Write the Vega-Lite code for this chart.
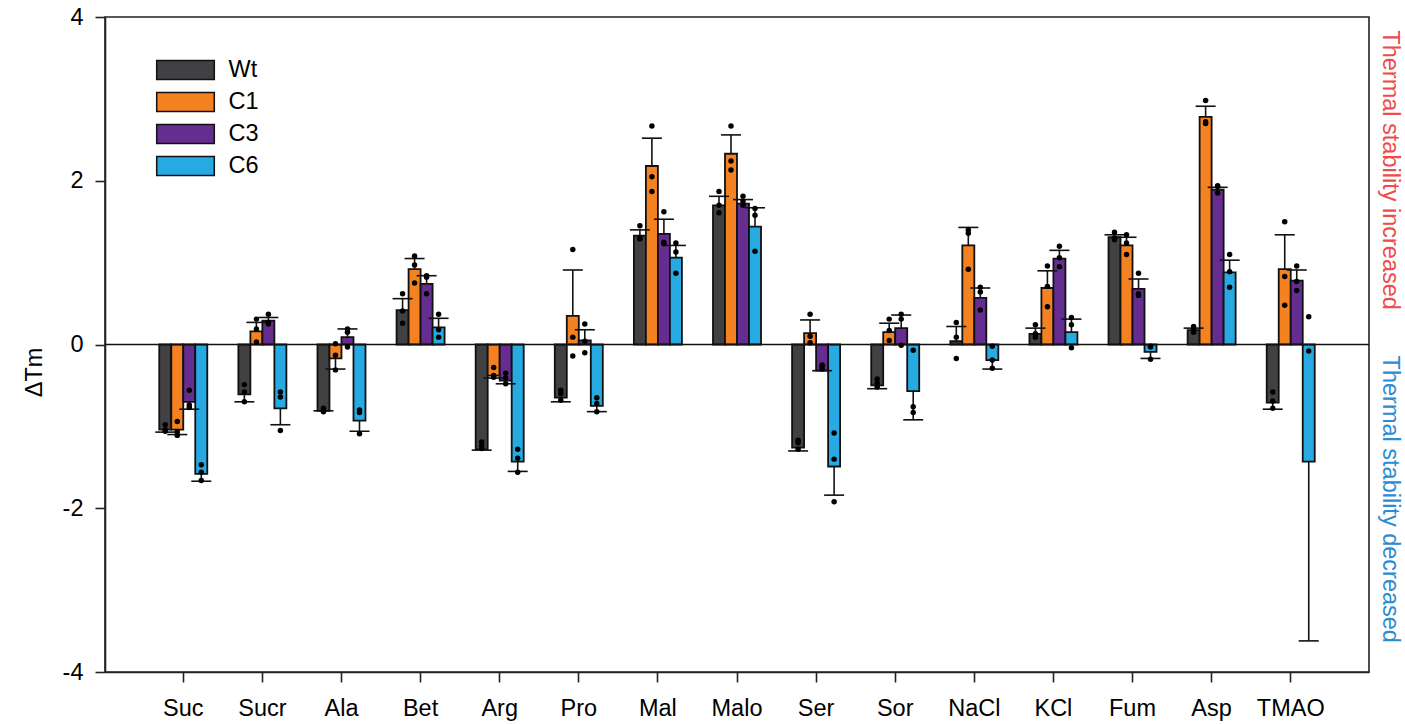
{
  "$schema": "https://vega.github.io/schema/vega-lite/v6.json",
  "width": 1264,
  "height": 655,
  "autosize": {"type": "none"},
  "padding": {"left": 105, "top": 17, "right": 36, "bottom": 52},
  "background": "white",
  "config": {
    "font": "Liberation Sans",
    "view": {"stroke": "#222222", "strokeWidth": 1.6},
    "axis": {"domainColor": "#222222", "domainWidth": 1.6, "tickColor": "#222222", "tickWidth": 1.6, "labelColor": "black", "titleColor": "black", "grid": false}
  },
  "datasets": {
    "bars": [
      {"cat": "Suc", "grp": "Wt", "mean": -1.04, "cap": -1.07, "d1": -0.98, "d2": -1.04, "d3": -1.06},
      {"cat": "Suc", "grp": "C1", "mean": -1.04, "cap": -1.10, "d1": -0.94, "d2": -1.07, "d3": -1.11},
      {"cat": "Suc", "grp": "C3", "mean": -0.70, "cap": -0.79, "d1": -0.56, "d2": -0.74, "d3": -0.77},
      {"cat": "Suc", "grp": "C6", "mean": -1.58, "cap": -1.67, "d1": -1.47, "d2": -1.56, "d3": -1.66},
      {"cat": "Sucr", "grp": "Wt", "mean": -0.61, "cap": -0.70, "d1": -0.49, "d2": -0.58, "d3": -0.70},
      {"cat": "Sucr", "grp": "C1", "mean": 0.16, "cap": 0.27, "d1": 0.31, "d2": 0.19, "d3": 0.03},
      {"cat": "Sucr", "grp": "C3", "mean": 0.29, "cap": 0.33, "d1": 0.37, "d2": 0.27, "d3": 0.25},
      {"cat": "Sucr", "grp": "C6", "mean": -0.78, "cap": -0.98, "d1": -0.58, "d2": -0.64, "d3": -1.05},
      {"cat": "Ala", "grp": "Wt", "mean": -0.81, "cap": -0.81, "d1": -0.78, "d2": -0.80, "d3": -0.82},
      {"cat": "Ala", "grp": "C1", "mean": -0.17, "cap": -0.30, "d1": 0.01, "d2": -0.13, "d3": -0.31},
      {"cat": "Ala", "grp": "C3", "mean": 0.09, "cap": 0.19, "d1": 0.19, "d2": 0.15, "d3": -0.03},
      {"cat": "Ala", "grp": "C6", "mean": -0.93, "cap": -1.06, "d1": -0.80, "d2": -0.83, "d3": -1.09},
      {"cat": "Bet", "grp": "Wt", "mean": 0.42, "cap": 0.56, "d1": 0.62, "d2": 0.41, "d3": 0.26},
      {"cat": "Bet", "grp": "C1", "mean": 0.92, "cap": 1.05, "d1": 1.08, "d2": 0.97, "d3": 0.75},
      {"cat": "Bet", "grp": "C3", "mean": 0.74, "cap": 0.84, "d1": 0.84, "d2": 0.82, "d3": 0.62},
      {"cat": "Bet", "grp": "C6", "mean": 0.21, "cap": 0.32, "d1": 0.37, "d2": 0.18, "d3": 0.09},
      {"cat": "Arg", "grp": "Wt", "mean": -1.28, "cap": -1.29, "d1": -1.19, "d2": -1.24, "d3": -1.27},
      {"cat": "Arg", "grp": "C1", "mean": -0.38, "cap": -0.41, "d1": -0.28, "d2": -0.38, "d3": -0.40},
      {"cat": "Arg", "grp": "C3", "mean": -0.44, "cap": -0.48, "d1": -0.35, "d2": -0.41, "d3": -0.48},
      {"cat": "Arg", "grp": "C6", "mean": -1.43, "cap": -1.55, "d1": -1.28, "d2": -1.39, "d3": -1.56},
      {"cat": "Pro", "grp": "Wt", "mean": -0.65, "cap": -0.70, "d1": -0.56, "d2": -0.60, "d3": -0.68},
      {"cat": "Pro", "grp": "C1", "mean": 0.35, "cap": 0.91, "d1": 1.16, "d2": 0.09, "d3": -0.14},
      {"cat": "Pro", "grp": "C3", "mean": 0.05, "cap": 0.18, "d1": 0.25, "d2": 0.04, "d3": -0.10},
      {"cat": "Pro", "grp": "C6", "mean": -0.75, "cap": -0.82, "d1": -0.65, "d2": -0.72, "d3": -0.82},
      {"cat": "Mal", "grp": "Wt", "mean": 1.33, "cap": 1.40, "d1": 1.45, "d2": 1.30, "d3": 1.29},
      {"cat": "Mal", "grp": "C1", "mean": 2.18, "cap": 2.52, "d1": 2.67, "d2": 2.05, "d3": 1.87},
      {"cat": "Mal", "grp": "C3", "mean": 1.35, "cap": 1.53, "d1": 1.62, "d2": 1.25, "d3": 1.23},
      {"cat": "Mal", "grp": "C6", "mean": 1.06, "cap": 1.21, "d1": 1.24, "d2": 1.13, "d3": 0.87},
      {"cat": "Malo", "grp": "Wt", "mean": 1.70, "cap": 1.81, "d1": 1.87, "d2": 1.70, "d3": 1.61},
      {"cat": "Malo", "grp": "C1", "mean": 2.33, "cap": 2.56, "d1": 2.67, "d2": 2.24, "d3": 2.13},
      {"cat": "Malo", "grp": "C3", "mean": 1.72, "cap": 1.77, "d1": 1.81, "d2": 1.75, "d3": 1.70},
      {"cat": "Malo", "grp": "C6", "mean": 1.44, "cap": 1.67, "d1": 1.66, "d2": 1.58, "d3": 1.14},
      {"cat": "Ser", "grp": "Wt", "mean": -1.26, "cap": -1.30, "d1": -1.17, "d2": -1.20, "d3": -1.28},
      {"cat": "Ser", "grp": "C1", "mean": 0.14, "cap": 0.30, "d1": 0.37, "d2": 0.10, "d3": 0.02},
      {"cat": "Ser", "grp": "C3", "mean": -0.32, "cap": -0.32, "d1": -0.25, "d2": -0.27, "d3": -0.30},
      {"cat": "Ser", "grp": "C6", "mean": -1.49, "cap": -1.84, "d1": -1.08, "d2": -1.40, "d3": -1.92},
      {"cat": "Sor", "grp": "Wt", "mean": -0.50, "cap": -0.54, "d1": -0.42, "d2": -0.47, "d3": -0.52},
      {"cat": "Sor", "grp": "C1", "mean": 0.15, "cap": 0.26, "d1": 0.31, "d2": 0.17, "d3": 0.05},
      {"cat": "Sor", "grp": "C3", "mean": 0.20, "cap": 0.36, "d1": 0.37, "d2": 0.31, "d3": -0.01},
      {"cat": "Sor", "grp": "C6", "mean": -0.57, "cap": -0.92, "d1": -0.07, "d2": -0.76, "d3": -0.83},
      {"cat": "NaCl", "grp": "Wt", "mean": 0.04, "cap": 0.22, "d1": 0.27, "d2": 0.09, "d3": -0.17},
      {"cat": "NaCl", "grp": "C1", "mean": 1.21, "cap": 1.43, "d1": 1.40, "d2": 1.36, "d3": 0.92},
      {"cat": "NaCl", "grp": "C3", "mean": 0.57, "cap": 0.69, "d1": 0.70, "d2": 0.64, "d3": 0.42},
      {"cat": "NaCl", "grp": "C6", "mean": -0.19, "cap": -0.30, "d1": -0.02, "d2": -0.19, "d3": -0.29},
      {"cat": "KCl", "grp": "Wt", "mean": 0.13, "cap": 0.20, "d1": 0.24, "d2": 0.13, "d3": 0.09},
      {"cat": "KCl", "grp": "C1", "mean": 0.69, "cap": 0.90, "d1": 0.96, "d2": 0.71, "d3": 0.46},
      {"cat": "KCl", "grp": "C3", "mean": 1.05, "cap": 1.15, "d1": 1.20, "d2": 1.06, "d3": 0.95},
      {"cat": "KCl", "grp": "C6", "mean": 0.15, "cap": 0.31, "d1": 0.33, "d2": 0.24, "d3": -0.04},
      {"cat": "Fum", "grp": "Wt", "mean": 1.31, "cap": 1.34, "d1": 1.37, "d2": 1.30, "d3": 1.28},
      {"cat": "Fum", "grp": "C1", "mean": 1.21, "cap": 1.31, "d1": 1.34, "d2": 1.24, "d3": 1.10},
      {"cat": "Fum", "grp": "C3", "mean": 0.68, "cap": 0.80, "d1": 0.87, "d2": 0.62, "d3": 0.60},
      {"cat": "Fum", "grp": "C6", "mean": -0.09, "cap": -0.17, "d1": -0.02, "d2": -0.03, "d3": -0.18},
      {"cat": "Asp", "grp": "Wt", "mean": 0.175, "cap": 0.20, "d1": 0.22, "d2": 0.18, "d3": 0.15},
      {"cat": "Asp", "grp": "C1", "mean": 2.78, "cap": 2.91, "d1": 2.98, "d2": 2.72, "d3": 2.70},
      {"cat": "Asp", "grp": "C3", "mean": 1.89, "cap": 1.92, "d1": 1.94, "d2": 1.93, "d3": 1.85},
      {"cat": "Asp", "grp": "C6", "mean": 0.88, "cap": 1.03, "d1": 1.10, "d2": 0.89, "d3": 0.70},
      {"cat": "TMAO", "grp": "Wt", "mean": -0.71, "cap": -0.79, "d1": -0.58, "d2": -0.69, "d3": -0.78},
      {"cat": "TMAO", "grp": "C1", "mean": 0.92, "cap": 1.34, "d1": 1.50, "d2": 0.83, "d3": 0.48},
      {"cat": "TMAO", "grp": "C3", "mean": 0.78, "cap": 0.91, "d1": 0.96, "d2": 0.77, "d3": 0.66},
      {"cat": "TMAO", "grp": "C6", "mean": -1.43, "cap": -3.62, "d1": 0.34, "d2": -0.08, "d3": null}
    ],
    "notes": [
      {"note": "Thermal stability increased", "side": "up"},
      {"note": "Thermal stability decreased", "side": "down"}
    ]
  },
  "layer": [
    {
      "data": {"name": "bars"},
      "mark": {"type": "bar", "stroke": "#111111", "strokeWidth": 1.8},
      "encoding": {
        "x": {"field": "cat", "type": "nominal", "sort": ["Suc","Sucr","Ala","Bet","Arg","Pro","Mal","Malo","Ser","Sor","NaCl","KCl","Fum","Asp","TMAO"],
              "scale": {"paddingInner": 0.393, "paddingOuter": 0.686},
              "axis": {"title": null, "labelAngle": 0, "labelFontSize": 23.5, "tickSize": 10, "labelPadding": 14}},
        "xOffset": {"field": "grp", "type": "nominal", "sort": ["Wt","C1","C3","C6"], "scale": {"paddingInner": 0, "paddingOuter": 0}},
        "y": {"field": "mean", "type": "quantitative", "scale": {"domain": [-4, 4], "nice": false},
              "axis": {"values": [-4,-2,0,2,4], "labelExpr": "'' + datum.value", "title": "ΔTm", "titleFontSize": 23.5, "titleFontWeight": "normal", "titlePadding": 16, "titleY": 355, "labelFontSize": 23.5, "tickSize": 10, "labelPadding": 12}},
        "color": {"field": "grp", "type": "nominal", "sort": ["Wt","C1","C3","C6"],
                  "scale": {"domain": ["Wt","C1","C3","C6"], "range": ["#414042","#F58220","#662D91","#27AAE1"]},
                  "legend": {"orient": "none", "legendX": 63.5, "legendY": 36, "title": null, "padding": 0,
                             "symbolType": "M-1.8,-0.6H1.8V0.6H-1.8Z", "symbolSize": 1024, "symbolStrokeColor": "#111111", "symbolStrokeWidth": 1.5, "symbolOpacity": 1,
                             "labelFontSize": 23.5, "labelOffset": 26, "rowPadding": 2, "labelColor": "black"}}
      }
    },
    {
      "data": {"name": "bars"},
      "mark": {"type": "rule", "color": "#111111", "strokeWidth": 1.6},
      "encoding": {
        "x": {"field": "cat", "type": "nominal", "sort": ["Suc","Sucr","Ala","Bet","Arg","Pro","Mal","Malo","Ser","Sor","NaCl","KCl","Fum","Asp","TMAO"]},
        "xOffset": {"field": "grp", "type": "nominal", "sort": ["Wt","C1","C3","C6"]},
        "y": {"field": "mean", "type": "quantitative"},
        "y2": {"field": "cap"}
      }
    },
    {
      "data": {"name": "bars"},
      "mark": {"type": "tick", "color": "#111111", "thickness": 1.6, "size": 20, "opacity": 1},
      "encoding": {
        "x": {"field": "cat", "type": "nominal", "sort": ["Suc","Sucr","Ala","Bet","Arg","Pro","Mal","Malo","Ser","Sor","NaCl","KCl","Fum","Asp","TMAO"]},
        "xOffset": {"field": "grp", "type": "nominal", "sort": ["Wt","C1","C3","C6"]},
        "y": {"field": "cap", "type": "quantitative"}
      }
    },
    {
      "data": {"values": [{"zero": 0}]},
      "mark": {"type": "rule", "color": "#111111", "strokeWidth": 1.6},
      "encoding": {"y": {"field": "zero", "type": "quantitative"}}
    },
    {
      "data": {"name": "bars"},
      "transform": [
        {"fold": ["d1", "d2", "d3"], "as": ["rep", "val"]},
        {"filter": "datum.val != null"}
      ],
      "mark": {"type": "point", "filled": true, "color": "black", "size": 30, "opacity": 1},
      "encoding": {
        "x": {"field": "cat", "type": "nominal", "sort": ["Suc","Sucr","Ala","Bet","Arg","Pro","Mal","Malo","Ser","Sor","NaCl","KCl","Fum","Asp","TMAO"]},
        "xOffset": {"field": "grp", "type": "nominal", "sort": ["Wt","C1","C3","C6"]},
        "y": {"field": "val", "type": "quantitative"}
      }
    },
    {
      "data": {"name": "notes"},
      "transform": [{"filter": "datum.side == 'up'"}],
      "mark": {"type": "text", "angle": 90, "align": "center", "baseline": "middle", "dy": -21, "fontSize": 23.5, "color": "#EE4B4B"},
      "encoding": {"x": {"value": "width"}, "y": {"datum": 2.13}, "text": {"field": "note"}}
    },
    {
      "data": {"name": "notes"},
      "transform": [{"filter": "datum.side == 'down'"}],
      "mark": {"type": "text", "angle": 90, "align": "center", "baseline": "middle", "dy": -21, "fontSize": 23.5, "color": "#2A8CD3"},
      "encoding": {"x": {"value": "width"}, "y": {"datum": -1.89}, "text": {"field": "note"}}
    }
  ]
}
